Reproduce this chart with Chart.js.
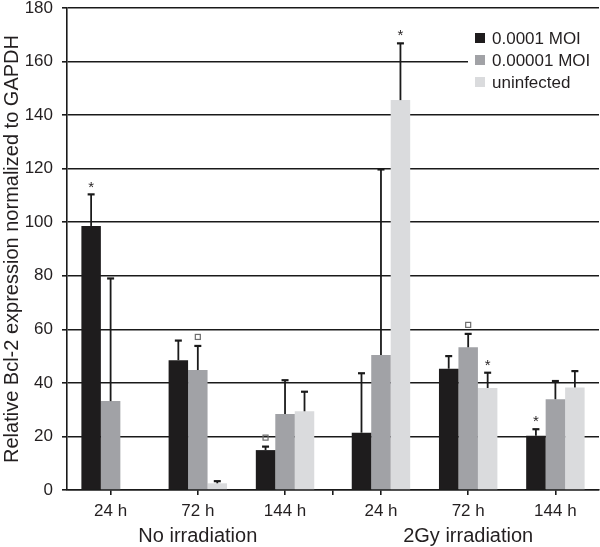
<!DOCTYPE html>
<html>
<head>
<meta charset="utf-8">
<script src="https://cdn.jsdelivr.net/npm/chart.js@4.4.1/dist/chart.umd.min.js"></script>
<style>
  html, body { margin: 0; padding: 0; background: #fff; }
  #wrap { width: 600px; height: 547px; }
</style>
</head>
<body>
<div id="wrap"><canvas id="c" width="600" height="547"></canvas></div>
<script>
// ---- data ----
const timeLabels  = ['24 h', '72 h', '144 h', '24 h', '72 h', '144 h'];
const groupLabels = ['No irradiation', '2Gy irradiation'];
const seriesNames = ['0.0001 MOI', '0.00001 MOI', 'uninfected'];

const moi4      = [98.6, 48.5, 14.9, 21.4, 45.3, 20.3];
const moi4Err   = [11.8,  7.3,  1.3, 22.2,  4.7,  2.4];
const moi4Marks = ['*', '', '□', '', '', '*'];

const moi5      = [33.2, 44.8, 28.4, 50.4, 53.3, 33.9];
const moi5Err   = [45.8,  9.0, 12.6, 69.3,  5.0,  6.8];
const moi5Marks = ['', '□', '', '', '□', ''];

const uninf      = [0.3, 2.5, 29.4, 145.6, 38.1, 38.3];
const uninfErr   = [0.0, 0.8,  7.3,  21.2,  5.7,  6.1];
const uninfMarks = ['', '', '', '*', '*', ''];

const yTicks = [0, 20, 40, 60, 80, 100, 120, 140, 160, 180];

// ---- layout helpers (category index -> position on a linear axis with a gap between groups) ----
const GAP = 0.1;
const perGroup = 3;
const catPos = i => i + 0.5 + (i >= perGroup ? GAP : 0);
const xMax = timeLabels.length + GAP;
const boundaries = [0, 1, 2, 3, 3 + GAP, 4 + GAP, 5 + GAP, 6 + GAP];
const groupCenters = [1.5, 4.5 + GAP];

const colors = ['#1e1c1d', '#a1a2a6', '#dadbdd'];
const textColor = '#231f20';
const FONT = '"Liberation Sans", Arial, Helvetica, sans-serif';

const seriesValues = [moi4, moi5, uninf];
const seriesErr = [moi4Err, moi5Err, uninfErr];
const seriesMarks = [moi4Marks, moi5Marks, uninfMarks];

const datasets = seriesNames.map((name, s) => ({
  label: name,
  data: seriesValues[s].map((v, i) => ({ x: catPos(i), y: v })),
  backgroundColor: colors[s],
  borderWidth: 0,
  errors: seriesErr[s],
  marks: seriesMarks[s],
  xAxisID: 'x',
  yAxisID: 'y',
  categoryPercentage: 0.67,
  barPercentage: 1.0
}));

const errorBarPlugin = {
  id: 'errorBars',
  afterDatasetsDraw(chart) {
    const ctx = chart.ctx;
    const yScale = chart.scales.y;
    ctx.save();
    chart.data.datasets.forEach((ds, di) => {
      const meta = chart.getDatasetMeta(di);
      meta.data.forEach((bar, i) => {
        const v = ds.data[i].y;
        const e = ds.errors[i];
        let topY = bar.y;
        if (e > 0) {
          topY = yScale.getPixelForValue(v + e);
          ctx.strokeStyle = '#1a1a1a';
          ctx.lineWidth = 1.8;
          ctx.beginPath();
          ctx.moveTo(bar.x, bar.y);
          ctx.lineTo(bar.x, topY);
          ctx.stroke();
          ctx.lineWidth = 2.2;
          ctx.beginPath();
          ctx.moveTo(bar.x - 3.5, topY);
          ctx.lineTo(bar.x + 3.5, topY);
          ctx.stroke();
        }
        const m = ds.marks[i];
        if (m === '*') {
          ctx.fillStyle = textColor;
          ctx.font = '15px ' + FONT;
          ctx.textAlign = 'center';
          ctx.textBaseline = 'middle';
          ctx.fillText('*', bar.x, topY - 7);
        } else if (m === '□') {
          ctx.strokeStyle = '#6d6d6d';
          ctx.lineWidth = 1.2;
          ctx.strokeRect(bar.x - 2.5, topY - 11.5, 5, 5);
        }
      });
    });
    ctx.restore();
  }
};

const legendPlugin = {
  id: 'insideLegend',
  afterDraw(chart) {
    const ctx = chart.ctx;
    const area = chart.chartArea;
    const left = area.right - 131;
    const top = area.top + 18;
    ctx.save();
    ctx.fillStyle = '#ffffff';
    ctx.fillRect(left, top, area.right - left + 1, 68);
    ctx.font = '17px ' + FONT;
    ctx.textAlign = 'left';
    ctx.textBaseline = 'middle';
    chart.data.datasets.forEach((ds, i) => {
      const cy = top + 12 + i * 22;
      ctx.fillStyle = ds.backgroundColor;
      ctx.fillRect(left + 7, cy - 5, 10, 10);
      ctx.fillStyle = textColor;
      ctx.fillText(ds.label, left + 24, cy + 1);
    });
    ctx.restore();
  }
};

const baseX = {
  type: 'linear',
  position: 'bottom',
  min: 0,
  max: xMax,
  offset: false
};

new Chart(document.getElementById('c'), {
  type: 'bar',
  data: { datasets },
  options: {
    responsive: false,
    animation: false,
    devicePixelRatio: 1,
    layout: { padding: { left: 0, right: 1, top: 8, bottom: 0 } },
    plugins: {
      legend: { display: false },
      tooltip: { enabled: false }
    },
    scales: {
      y: {
        type: 'linear',
        min: 0,
        max: 180,
        afterBuildTicks: s => { s.ticks = yTicks.map(v => ({ value: v })); },
        ticks: {
          font: { family: FONT, size: 17, lineHeight: 1.0 },
          color: textColor,
          padding: 9
        },
        grid: { color: '#1a1a1a', lineWidth: 1.6, tickLength: 5, drawTicks: true },
        border: { display: true, color: '#1a1a1a', width: 1.6 },
        title: {
          display: true,
          text: 'Relative Bcl-2 expression normalized to GAPDH',
          font: { family: FONT, size: 20, lineHeight: 1.2 },
          color: textColor,
          padding: { top: 0, bottom: 0 }
        },
        afterFit: s => { s.width = 67; s.paddingTop = 0; s.paddingBottom = 0; }
      },
      xb: Object.assign({}, baseX, {
        weight: 0,
        afterBuildTicks: s => { s.ticks = boundaries.map(v => ({ value: v })); },
        ticks: { display: false },
        grid: { display: true, drawOnChartArea: false, drawTicks: true, tickLength: 5, color: '#1a1a1a', lineWidth: 1.6 },
        border: { display: true, color: '#1a1a1a', width: 1.6 },
        afterFit: s => { s.height = 5; s.paddingLeft = 0; s.paddingRight = 0; }
      }),
      x: Object.assign({}, baseX, {
        weight: 1,
        afterBuildTicks: s => { s.ticks = timeLabels.map((t, i) => ({ value: catPos(i) })); },
        ticks: {
          autoSkip: false,
          maxRotation: 0,
          font: { family: FONT, size: 17, lineHeight: 1.0 },
          color: textColor,
          padding: 8,
          callback: (v, i) => timeLabels[i]
        },
        grid: { display: false, drawTicks: false },
        border: { display: false },
        afterFit: s => { s.height = 27; s.paddingLeft = 0; s.paddingRight = 0; }
      }),
      xg: Object.assign({}, baseX, {
        weight: 2,
        afterBuildTicks: s => { s.ticks = groupCenters.map(v => ({ value: v })); },
        ticks: {
          autoSkip: false,
          maxRotation: 0,
          font: { family: FONT, size: 20, lineHeight: 1.0 },
          color: textColor,
          padding: 4,
          callback: (v, i) => groupLabels[i]
        },
        grid: { display: false, drawTicks: false },
        border: { display: false },
        afterFit: s => { s.height = 25; s.paddingLeft = 0; s.paddingRight = 0; }
      })
    }
  },
  plugins: [errorBarPlugin, legendPlugin]
});
</script>
</body>
</html>
